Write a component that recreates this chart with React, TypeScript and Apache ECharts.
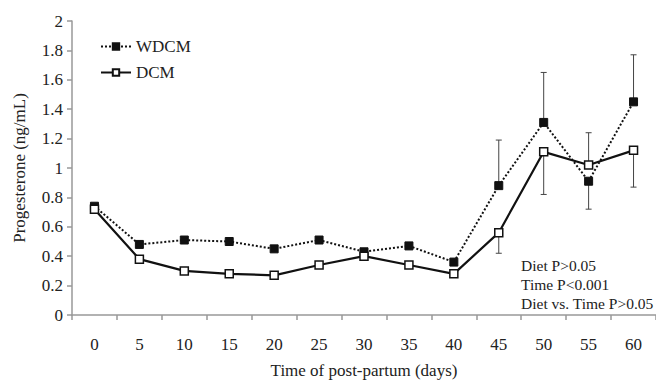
import React, { useEffect, useRef } from "react";
import * as echarts from "echarts";

const days = ["0", "5", "10", "15", "20", "25", "30", "35", "40", "45", "50", "55", "60"];
const wdcm = [0.74, 0.48, 0.51, 0.5, 0.45, 0.51, 0.43, 0.47, 0.36, 0.88, 1.31, 0.91, 1.45];
const dcm = [0.72, 0.38, 0.3, 0.28, 0.27, 0.34, 0.4, 0.34, 0.28, 0.56, 1.11, 1.02, 1.12];
// error bars: [category index, from, to]
const wdcmErr = [
  [9, 0.88, 1.19],
  [10, 1.31, 1.65],
  [11, 0.91, 0.72],
  [12, 1.45, 1.77],
];
const dcmErr = [
  [9, 0.56, 0.42],
  [10, 1.11, 0.82],
  [11, 1.02, 1.24],
  [12, 1.12, 0.87],
];
const notes = ["Diet P>0.05", "Time P<0.001", "Diet vs. Time P>0.05"];

const FONT = "Liberation Serif";

function errRender(params: any, api: any) {
  const x = api.value(0);
  const a = api.coord([x, api.value(1)]);
  const b = api.coord([x, api.value(2)]);
  const cap = 3;
  const style = { stroke: "#444", lineWidth: 1 };
  return {
    type: "group",
    children: [
      { type: "line", shape: { x1: a[0], y1: a[1], x2: b[0], y2: b[1] }, style },
      { type: "line", shape: { x1: b[0] - cap, y1: b[1], x2: b[0] + cap, y2: b[1] }, style },
    ],
  };
}

export default function App() {
  const ref = useRef<HTMLDivElement>(null);
  useEffect(() => {
    const chart = echarts.init(ref.current!, null, { renderer: "svg" });
    chart.setOption({
      animation: false,
      backgroundColor: "#fff",
      textStyle: { fontFamily: FONT },
      grid: { left: 72, right: 0, top: 21, bottom: 64 },
      legend: {
        orient: "vertical",
        left: 95,
        top: 33,
        itemWidth: 30,
        itemHeight: 8,
        itemGap: 9,
        data: ["WDCM", "DCM"],
        textStyle: { fontFamily: FONT, fontSize: 17, color: "#222" },
      },
      xAxis: {
        type: "category",
        data: days,
        boundaryGap: true,
        name: "Time of post-partum (days)",
        nameLocation: "middle",
        nameGap: 47,
        nameTextStyle: { fontFamily: FONT, fontSize: 17, color: "#222" },
        axisLine: { lineStyle: { color: "#999", width: 1.5 } },
        axisTick: { show: true, length: 5, lineStyle: { color: "#999", width: 1.5 } },
        axisLabel: { fontFamily: FONT, fontSize: 17, color: "#222", margin: 21 },
        splitLine: { show: false },
      },
      yAxis: {
        type: "value",
        min: 0,
        max: 2,
        interval: 0.2,
        name: "Progesterone (ng/mL)",
        nameLocation: "middle",
        nameGap: 44,
        nameTextStyle: { fontFamily: FONT, fontSize: 17, color: "#222" },
        axisLine: { show: true, lineStyle: { color: "#999", width: 1.5 } },
        axisTick: { show: true, length: 5, lineStyle: { color: "#999", width: 1.5 } },
        axisLabel: { fontFamily: FONT, fontSize: 17, color: "#222", margin: 9 },
        splitLine: { show: false },
      },
      series: [
        {
          name: "WDCM",
          type: "line",
          data: wdcm,
          symbol: "rect",
          symbolSize: 8,
          lineStyle: { color: "#111", width: 2, type: "dotted" },
          itemStyle: { color: "#111", borderColor: "#111", borderWidth: 1 },
          z: 3,
        },
        {
          name: "DCM",
          type: "line",
          data: dcm,
          symbol: "rect",
          symbolSize: 8,
          lineStyle: { color: "#111", width: 2.2, type: "solid" },
          itemStyle: { color: "#fff", borderColor: "#111", borderWidth: 1.5 },
          z: 4,
        },
        {
          type: "custom",
          renderItem: errRender,
          data: wdcmErr,
          encode: { x: 0, y: [1, 2] },
          z: 2,
          silent: true,
        },
        {
          type: "custom",
          renderItem: errRender,
          data: dcmErr,
          encode: { x: 0, y: [1, 2] },
          z: 2,
          silent: true,
        },
      ],
      graphic: notes.map((t, i) => ({
        type: "text",
        left: 521,
        top: 257 + i * 19,
        style: { text: t, fontFamily: FONT, fontSize: 15.5, fill: "#222" },
      })),
    });
    return () => chart.dispose();
  }, []);
  return (
    <div
      ref={ref}
      style={{ position: "absolute", left: 0, top: 0, width: 656, height: 384 }}
    />
  );
}
